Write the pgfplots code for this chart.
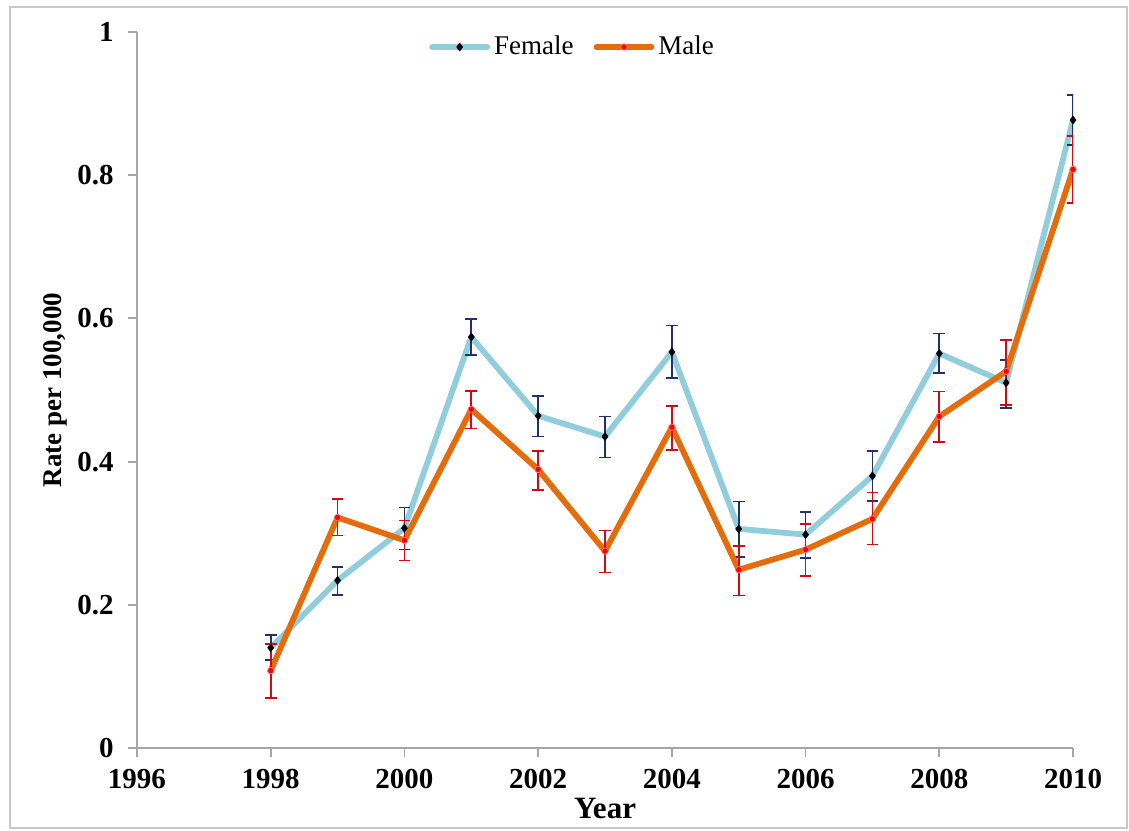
\documentclass[border=0pt]{standalone}
\usepackage{pgfplots}
\pgfplotsset{compat=1.18}
\usepackage{pgfplotstable}
\usepackage{fontspec}
\setmainfont{Liberation Serif}
\definecolor{femline}{RGB}{146,205,220}
\definecolor{maleline}{RGB}{228,108,10}
\definecolor{femerr}{RGB}{31,50,110}
\definecolor{maleerr}{RGB}{210,10,20}
\definecolor{axisgray}{RGB}{166,166,166}
\definecolor{bordergray}{RGB}{200,200,200}

\pgfplotstableread{
x y ep em
1998 0.140 0.018 0.017
1999 0.234 0.019 0.020
2000 0.307 0.029 0.030
2001 0.574 0.025 0.025
2002 0.464 0.028 0.029
2003 0.435 0.028 0.029
2004 0.553 0.037 0.036
2005 0.306 0.038 0.039
2006 0.298 0.032 0.033
2007 0.380 0.035 0.035
2008 0.551 0.028 0.027
2009 0.510 0.032 0.035
2010 0.877 0.035 0.035
}\female

\pgfplotstableread{
x y ep em
1998 0.108 0.037 0.038
1999 0.322 0.026 0.025
2000 0.290 0.028 0.028
2001 0.473 0.026 0.027
2002 0.389 0.026 0.029
2003 0.275 0.029 0.030
2004 0.448 0.030 0.032
2005 0.249 0.033 0.036
2006 0.277 0.036 0.037
2007 0.320 0.037 0.036
2008 0.463 0.035 0.036
2009 0.526 0.044 0.047
2010 0.808 0.047 0.047
}\male

\begin{document}
\begin{tikzpicture}
\useasboundingbox (-68.5pt,-41pt) rectangle (496pt,374pt);
\draw[draw=bordergray, line width=1pt] (-63.5pt,-40pt) rectangle (495pt,370.5pt);
\begin{axis}[
  at={(0,0)}, anchor=south west,
  scale only axis, width=468pt, height=358pt,
  xmin=1996, xmax=2010, ymin=0, ymax=1,
  axis lines*=left,
  axis line style={draw=axisgray, line width=0.9pt},
  xtick={1996,1998,2000,2002,2004,2006,2008,2010},
  ytick={0,0.2,0.4,0.6,0.8,1},
  tick align=outside, major tick length=4.5pt,
  tick style={draw=axisgray, line width=0.9pt},
  /pgf/number format/assume math mode=true,
  /pgf/number format/1000 sep={},
  ticklabel style={font=\bfseries\fontsize{14.5}{14.5}\selectfont, inner sep=0pt},
  yticklabel style={anchor=east, xshift=-7pt},
  xticklabel style={anchor=north, yshift=-6pt},
  xlabel={Year},
  ylabel={Rate per 100,000},
  xlabel style={font=\bfseries\fontsize{15.5}{15.5}\selectfont, at={(axis description cs:0.5,-0.0838)}, anchor=center},
  ylabel style={font=\bfseries\fontsize{13.5}{13.5}\selectfont, at={(axis description cs:-0.0876,0.5)}, anchor=center},
  legend style={at={(axis description cs:0.4664,0.979)}, anchor=center, draw=none, fill=none,
    font=\fontsize{13.5}{13.5}\selectfont, legend columns=2,
    /tikz/every even column/.append style={column sep=8pt}},
  legend cell align=left,
  legend image code/.code={\draw[#1, mark repeat=2, mark phase=2] plot coordinates {(0pt,0pt) (13.75pt,0pt) (27.5pt,0pt)};},
]
\addplot[femline, line width=2.9pt, line join=round, line cap=round,
  mark=diamond*, mark size=2pt, mark options={fill=black, draw=black, line width=0.3pt},
  error bars/.cd, y dir=both, y explicit,
  error bar style={draw=femerr, line width=0.8pt},
  error mark options={rotate=90, draw=femerr, line width=0.8pt, mark size=2.9pt}]
  table[x=x, y=y, y error plus=ep, y error minus=em] {\female};
\addlegendentry{Female}
\addplot[maleline, line width=2.9pt, line join=round, line cap=round,
  mark=*, mark size=1.6pt, mark options={fill=red, draw=red!55!white, line width=0.4pt},
  error bars/.cd, y dir=both, y explicit,
  error bar style={draw=maleerr, line width=0.8pt},
  error mark options={rotate=90, draw=maleerr, line width=0.8pt, mark size=2.9pt}]
  table[x=x, y=y, y error plus=ep, y error minus=em] {\male};
\addlegendentry{Male}
\end{axis}
\end{tikzpicture}
\end{document}
